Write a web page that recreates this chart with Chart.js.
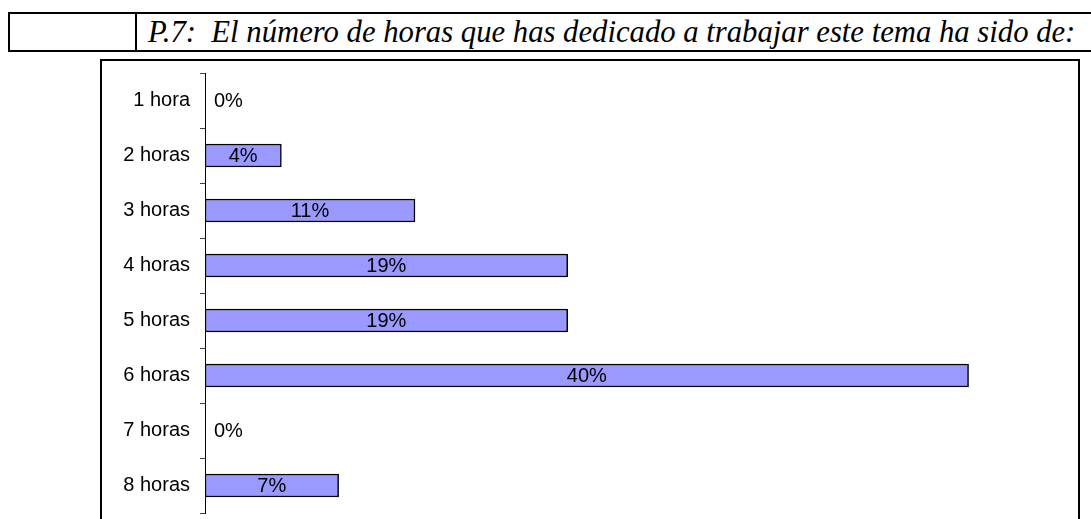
<!DOCTYPE html>
<html>
<head>
<meta charset="utf-8">
<script src="https://cdn.jsdelivr.net/npm/chart.js@4/dist/chart.umd.min.js"></script>
<style>
  body { margin: 0; background: #fff; width: 1091px; height: 519px; overflow: hidden; position: relative; }
  #hdr { position: absolute; left: 8px; top: 12px; width: 1090px; height: 36px; border-top: 2px solid #000; border-bottom: 2px solid #000; border-left: 2px solid #000; }
  #hdr .cell1 { position: absolute; left: 0; top: 0; width: 125px; height: 36px; border-right: 2px solid #000; }
  #hdr .txt { position: absolute; left: 138px; top: 1px; font: italic 30.7px "Liberation Serif", "Times New Roman", serif; white-space: pre; color: #000; }
  #box { position: absolute; left: 100px; top: 59px; width: 976px; height: 480px; border: 2px solid #000; }
  #wrap { position: absolute; left: 100px; top: 59px; width: 980px; height: 460px; }
</style>
</head>
<body>
<div id="hdr"><div class="cell1"></div><div class="txt">P.7:  El número de horas que has dedicado a trabajar este tema ha sido de:</div></div>
<div id="box"></div>
<div id="wrap"><canvas id="chartHoras"></canvas></div>
<script>
const categorias = ['1 hora','2 horas','3 horas','4 horas','5 horas','6 horas','7 horas','8 horas'];
const porcentajes = [0,4,11,19,19,40,0,7];

// etiquetas de valor dentro de las barras
const etiquetasBarras = {
  id: 'etiquetasBarras',
  afterDatasetsDraw(chart) {
    const ctx = chart.ctx;
    const meta = chart.getDatasetMeta(0);
    ctx.save();
    ctx.font = '20px "Liberation Sans", Arial, sans-serif';
    ctx.fillStyle = '#000';
    ctx.textBaseline = 'middle';
    meta.data.forEach((bar, i) => {
      const v = porcentajes[i];
      const txt = v + '%';
      if (v === 0) {
        ctx.textAlign = 'left';
        ctx.fillText(txt, bar.base + 9, bar.y + 1);
      } else {
        ctx.textAlign = 'center';
        ctx.fillText(txt, (bar.x + bar.base) / 2, bar.y + 1);
      }
    });
    ctx.restore();
  }
};

const ctxHoras = document.getElementById('chartHoras');

new Chart(ctxHoras, {
  type: 'bar',
  data: {
    labels: categorias,
    datasets: [{
      data: porcentajes,
      backgroundColor: '#9999ff',
      borderColor: '#000',
      borderWidth: 1.5,
      borderSkipped: false,
      barThickness: 23
    }]
  },
  options: {
    indexAxis: 'y',
    responsive: true,
    maintainAspectRatio: false,
    animation: false,
    layout: { padding: { top: 14, bottom: 6, right: 16, left: 0 } },
    scales: {
      x: { display: false, min: 0, max: 45 },
      y: {
        afterFit(scale) {
          scale.width = 105;
          scale.paddingTop = 0;
          scale.paddingBottom = 0;
        },
        grid: { offset: true, drawOnChartArea: false, tickLength: 5, color: '#444' },
        border: { color: '#000', width: 1 },
        ticks: {
          padding: 10,
          color: '#000',
          font: { family: '"Liberation Sans", Arial, sans-serif', size: 20 }
        }
      }
    },
    plugins: {
      legend: { display: false },
      tooltip: { enabled: false }
    }
  },
  plugins: [etiquetasBarras]
});
</script>
</body>
</html>
